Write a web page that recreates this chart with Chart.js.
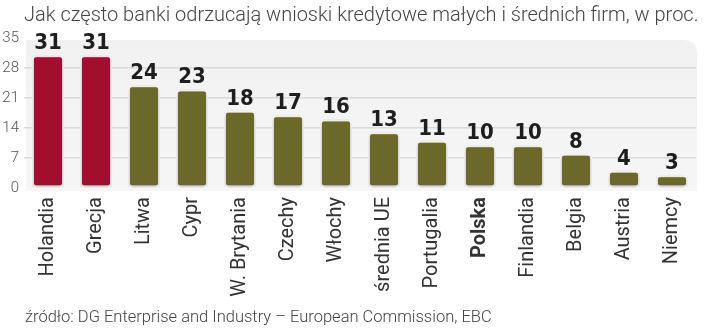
<!DOCTYPE html>
<html><head><meta charset="utf-8">
<script src="https://cdn.jsdelivr.net/npm/chart.js@4/dist/chart.umd.min.js"></script>
<style>html,body{margin:0;padding:0;background:#fff;}#wrap{width:720px;height:328px;}</style>
</head><body><div id="wrap"><canvas id="c" width="720" height="328"></canvas></div>
<script>
const categories = ["Holandia","Grecja","Litwa","Cypr","W. Brytania","Czechy","Włochy","średnia UE","Portugalia","Polska","Finlandia","Belgia","Austria","Niemcy"];
const values = [31,31,24,23,18,17,16,13,11,10,10,8,4,3];
const highlighted = ["Holandia","Grecja"];
const yTicks = [0,7,14,21,28,35];
const titleText = "Jak często banki odrzucają wnioski kredytowe małych i średnich firm, w proc.";
const sourceText = "źródło: DG Enterprise and Industry – European Commission, EBC";

const RED = "#a30e2f", OLIVE = "#6b6829";

const panelPlugin = {
  id: 'panel',
  beforeDraw(chart) {
    const {ctx, chartArea: a} = chart;
    ctx.save();
    const x0 = a.left + 2, x1 = a.right + 1, y0 = a.top + 2, y1 = a.bottom + 3, r = 14;
    const g = ctx.createLinearGradient(0, y0, 0, y1);
    g.addColorStop(0, '#f1f1f1'); g.addColorStop(1, '#f6f6f6');
    ctx.fillStyle = g;
    ctx.beginPath();
    ctx.moveTo(x0, y0); ctx.lineTo(x1 - r, y0);
    ctx.quadraticCurveTo(x1, y0, x1, y0 + r);
    ctx.lineTo(x1, y1); ctx.lineTo(x0, y1); ctx.closePath();
    ctx.fill();
    ctx.fillStyle = '#444';
    ctx.textBaseline = 'alphabetic';
    ctx.textAlign = 'left';
    ctx.font = '300 20px Roboto';
    ctx.fillText(titleText, 24, 21, 694);
    ctx.font = '300 16.5px Roboto';
    ctx.fillText(sourceText, 25, 322, 468);
    ctx.restore();
  },
  beforeDatasetsDraw(chart) {
    const ctx = chart.ctx;
    ctx.save();
    ctx.shadowColor = 'rgba(0,0,0,0.35)';
    ctx.shadowBlur = 4;
    ctx.shadowOffsetX = 0; ctx.shadowOffsetY = 1;
  },
  afterDatasetsDraw(chart) {
    const ctx = chart.ctx;
    ctx.restore();
    ctx.save();
    const meta = chart.getDatasetMeta(0);
    ctx.font = 'bold 22px "DejaVu Sans Condensed", "DejaVu Sans"';
    ctx.fillStyle = '#1e1e1e';
    ctx.textAlign = 'center';
    ctx.textBaseline = 'alphabetic';
    meta.data.forEach((bar, i) => {
      ctx.fillText(String(values[i]), bar.x, bar.y - 6);
    });
    ctx.restore();
  }
};

new Chart(document.getElementById('c'), {
  type: 'bar',
  data: {
    labels: categories,
    datasets: [{
      data: values,
      backgroundColor: categories.map(c => highlighted.includes(c) ? RED : OLIVE),
      borderColor: '#ffffff',
      borderWidth: 2,
      borderRadius: 4,
      borderSkipped: false,
      categoryPercentage: 1,
      barPercentage: 0.667
    }]
  },
  options: {
    responsive: false,
    animation: false,
    devicePixelRatio: 1,
    layout: { padding: { top: 38, right: 24, bottom: 0, left: 0 } },
    plugins: { legend: { display: false }, tooltip: { enabled: false } },
    scales: {
      y: {
        min: 0, max: 35,
        afterBuildTicks(axis) { axis.ticks = yTicks.map(v => ({ value: v })); },
        afterFit(axis) { axis.width = 24; },
        border: { display: false },
        grid: {
          drawTicks: false,
          lineWidth: 1.5,
          color: (c) => (c.tick && (c.tick.value === 0 || c.tick.value === 35)) ? 'rgba(0,0,0,0)' : '#dadada'
        },
        ticks: { padding: 5, color: '#555', font: { family: 'Roboto', size: 15, weight: '300' } }
      },
      x: {
        afterFit(axis) { axis.height = 140; },
        border: { display: false },
        grid: { display: false, drawTicks: false },
        ticks: {
          minRotation: 90, maxRotation: 90, autoSkip: false, padding: 9,
          color: '#333',
          font: (c) => ({ family: 'Roboto', size: 20, weight: categories[c.index] === 'Polska' ? 'bold' : 'normal' })
        }
      }
    }
  },
  plugins: [panelPlugin]
});
</script>
</body></html>
